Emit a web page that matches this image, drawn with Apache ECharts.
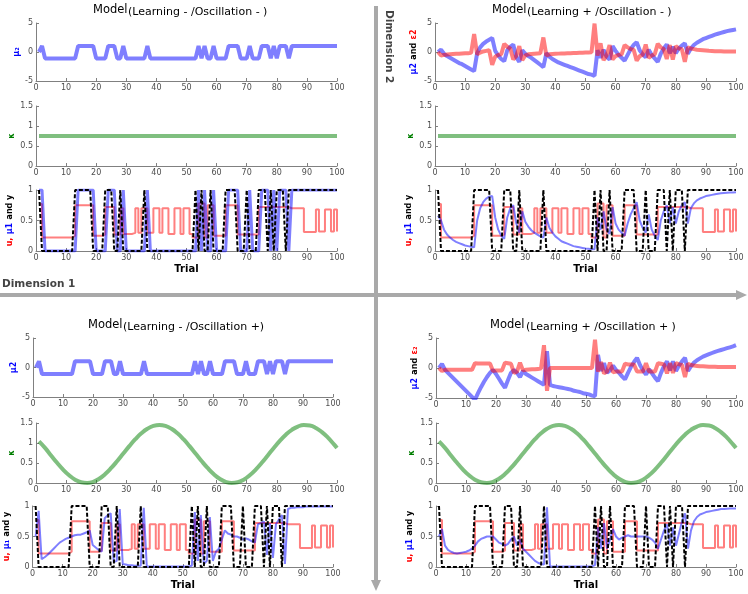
<!DOCTYPE html>
<html><head><meta charset="utf-8">
<script src="https://cdn.jsdelivr.net/npm/echarts@6/dist/echarts.min.js"></script>
<style>html,body{margin:0;padding:0;background:#fff}#c{width:748px;height:594px}</style>
</head><body><div id="c"></div>
<script>
// ---------- data (trial 1..100) ----------
const xTicks = [0,10,20,30,40,50,60,70,80,90,100];
const yOut = [1,
 0,0,0,0,0,0,0,0,0,0,0,
 1,1,1,1,1,1,
 0,0,0,0,
 1,1,1,
 0,0,
 1,
 0,0,0,0,0,0,0,
 1,
 0,0,0,0,0,0,0,0,0,0,0,0,0,0,0,0,
 1,0,1,0,0,1,0,0,0,0,
 1,1,1,1,0,0,0,1,0,0,
 0,1,1,1,0,1,0,1,1,1,
 0,1,1,1,1,1,1,1,1,1,
 1,1,1,1,1,1,1,1];
const uProb = [0.77,
 0.22,0.22,0.22,0.22,0.22,0.22,0.22,0.22,0.22,0.22,
 0.25,
 0.75,0.75,0.75,0.75,0.75,0.75,
 0.25,0.25,0.25,0.27,
 0.72,0.72,0.72,
 0.27,0.27,
 0.70,
 0.28,0.28,0.28,0.30,
 0.70,0.30,0.70,0.70,0.30,0.30,0.70,0.70,0.30,0.70,0.70,
 0.28,0.28,0.70,0.70,0.28,0.70,0.70,0.28,0.22,0.22,
 0.78,0.78,0.22,0.75,0.75,0.25,0.25,0.25,0.25,
 0.75,0.75,0.75,0.75,0.27,0.27,0.27,0.27,0.27,0.27,0.27,
 0.72,0.72,0.72,0.72,0.72,0.72,0.72,0.72,0.72,0.72,
 0.70,0.70,0.70,0.70,0.70,0.31,0.31,0.31,0.31,0.68,0.32,0.32,0.68,0.68,0.32,0.68,0.32];
const mu2NoLearn = [0,1.05,
 -1.1,-1.1,-1.1,-1.1,-1.1,-1.1,-1.1,-1.1,-1.1,-1.1,-1.1,
 1.05,1.05,1.05,1.05,1.05,1.05,
 -1.1,-1.1,-1.1,-1.1,
 1.05,1.05,1.05,
 -1.1,-1.1,
 1.05,
 -1.1,-1.1,-1.1,-1.1,-1.1,-1.1,-1.1,
 1.05,
 -1.1,-1.1,-1.1,-1.1,-1.1,-1.1,-1.1,-1.1,-1.1,-1.1,-1.1,-1.1,-1.1,-1.1,-1.1,-1.1,
 1.05,-1.1,1.05,-1.1,-1.1,1.05,-1.1,-1.1,-1.1,-1.1,
 1.05,1.05,1.05,1.05,-1.1,-1.1,-1.1,1.05,-1.1,-1.1,
 -1.1,1.05,1.05,1.05,-1.1,1.05,-1.1,1.05,1.05,1.05,
 -1.1,1.05,1.05,1.05,1.05,1.05,1.05,1.05,1.05,1.05,
 1.05,1.05,1.05,1.05,1.05,1.05,1.05];
const mu1NoLearn = [1,1,
 0,0,0,0,0,0,0,0,0,0,0,
 1,1,1,1,1,1,
 0,0,0,0,
 1,1,1,
 0,0,
 1,
 0,0,0,0,0,0,0,
 1,
 0,0,0,0,0,0,0,0,0,0,0,0,0,0,0,0,
 1,0,1,0,0,1,0,0,0,0,
 1,1,1,1,0,0,0,1,0,0,
 0,1,1,1,0,1,0,1,1,1,
 0,1,1,1,1,1,1,1,1,1,
 1,1,1,1,1,1,1];
const kappaConst = [0.75, 0.75];          // constant coupling, trials 1 and 100
const kappaTrials = [1,3,5,7,9,11,13,15,17,19,21,23,25,27,29,31,33,35,37,39,41,43,45,47,49,51,53,55,57,59,61,63,65,67,69,71,73,75,77,79,81,83,85,87,89,91,93,95,97,99,100];
const kappaOsc = [1.04,0.877,0.69,0.506,0.336,0.193,0.083,0.018,0.001,0.03,0.107,0.225,0.376,0.55,0.737,0.922,1.095,1.242,1.355,1.426,1.45,1.426,1.355,1.242,1.095,0.922,0.737,0.55,0.376,0.225,0.107,0.03,0.001,0.018,0.083,0.193,0.336,0.506,0.69,0.877,1.053,1.208,1.33,1.412,1.448,1.436,1.377,1.273,1.134,0.966,0.876];
const mu2LearnA = [0,0.4,-0.3,-0.7,-1.0,-1.3,-1.6,-1.9,-2.1,-2.4,
 -2.7,-3.0,-3.3,-0.2,0.8,1.4,1.8,2.1,2.4,0.2,
 -0.6,-1.2,-1.6,0.3,0.9,1.3,-0.9,-1.7,0.3,-0.3,
 -0.7,-1.0,-1.4,-1.8,-2.2,-2.6,-0.2,-0.8,-1.2,-1.5,
 -1.8,-2.0,-2.2,-2.4,-2.6,-2.8,-3.0,-3.2,-3.4,-3.6,
 -3.8,-3.9,-4.1,0.3,-1.0,0.4,-0.8,-1.3,1.0,0.2,
 -0.5,-1.0,-1.5,-0.5,0.5,1.2,1.7,0.3,-0.4,-0.9,
 0.4,-0.5,-1.1,-1.7,-0.3,0.6,1.3,-0.2,0.9,-0.2,
 0.6,1.1,1.5,-0.3,0.6,1.2,1.6,1.9,2.2,2.4,
 2.6,2.8,3.0,3.15,3.3,3.45,3.6,3.7,3.8,3.9];
const eps2LearnA = [0,-0.6,-0.5,-0.45,-0.4,-0.35,-0.3,-0.3,-0.25,-0.2,
 -0.2,-0.15,3.1,-0.4,-0.1,0.1,0.2,0.3,-2.2,-0.8,
 -0.5,-0.4,1.4,0.9,0.6,-1.3,-0.7,1.0,-1.4,-0.6,
 -0.4,-0.35,-0.3,-0.25,-0.2,2.5,-0.6,-0.4,-0.35,-0.3,
 -0.28,-0.26,-0.24,-0.22,-0.2,-0.18,-0.16,-0.14,-0.12,-0.1,
 -0.08,-0.06,4.9,-0.6,1.5,-1.4,-0.6,1.2,-1.3,-0.7,
 -0.5,-0.4,1.2,0.8,0.5,0.4,-1.5,-0.7,-0.5,1.3,
 -1.0,-0.6,-0.4,1.4,0.8,0.5,-1.2,1.2,-1.3,1.0,
 0.6,0.5,-1.7,0.8,0.6,0.5,0.4,0.35,0.3,0.25,
 0.2,0.18,0.15,0.13,0.12,0.1,0.1,0.08,0.08,0.07];
const mu1LearnA = [0.58,0.5,0.35,0.27,0.22,0.18,0.15,0.13,0.11,0.09,
 0.08,0.07,0.06,0.5,0.7,0.8,0.86,0.89,0.9,0.55,
 0.35,0.25,0.2,0.55,0.7,0.75,0.45,0.3,0.65,0.48,
 0.4,0.34,0.3,0.27,0.24,0.22,0.55,0.38,0.3,0.24,
 0.2,0.16,0.14,0.12,0.1,0.08,0.07,0.06,0.05,0.04,
 0.035,0.03,0.03,0.55,0.35,0.65,0.35,0.28,0.72,0.45,
 0.35,0.3,0.25,0.45,0.6,0.7,0.8,0.5,0.38,0.3,
 0.6,0.35,0.25,0.18,0.5,0.65,0.75,0.45,0.72,0.45,
 0.65,0.75,0.8,0.45,0.7,0.78,0.83,0.86,0.88,0.9,
 0.91,0.92,0.93,0.94,0.945,0.95,0.955,0.96,0.96,0.965];
const mu1OscC = [0.5,0.92,0.13,0.16,0.2,0.25,0.3,0.35,0.4,0.43,
 0.46,0.48,0.5,0.52,0.53,0.53,0.55,0.57,0.6,0.36,
 0.32,0.28,0.25,0.8,0.85,0.88,0.08,0.1,0.95,0.05,
 0.04,0.03,0.03,0.02,0.02,0.02,0.97,0.01,0.01,0.01,
 0.01,0.01,0.01,0.01,0.01,0.01,0.01,0.01,0.01,0.01,
 0.01,0.01,0.02,0.9,0.1,0.85,0.05,0.1,0.82,0.1,
 0.25,0.3,0.45,0.6,0.55,0.53,0.5,0.5,0.48,0.45,
 0.47,0.45,0.42,0.4,0.7,0.72,0.75,0.2,0.72,0.15,
 0.7,0.78,0.85,0.05,0.95,0.97,0.97,0.98,0.98,0.98,
 0.99,0.99,0.99,0.99,0.99,0.99,0.99,0.99,0.99,0.99];
const mu2BothD = [0,0.7,-0.3,-0.8,-1.3,-1.8,-2.3,-2.8,-3.3,-3.8,
 -4.3,-4.8,-5.3,-4.2,-3.2,-2.3,-1.5,-0.8,-0.3,-1.0,
 -1.8,-2.6,-3.3,-2.0,-0.8,-0.3,-0.8,-1.5,-0.5,-1.0,
 -1.3,-1.6,-1.9,-2.2,-2.5,-2.8,2.8,-2.8,-3.0,-3.1,
 -3.2,-3.3,-3.4,-3.5,-3.6,-3.8,-3.9,-4.0,-4.2,-4.3,
 -4.4,-4.6,-4.7,2.2,-0.5,0.8,-0.8,-0.4,0.4,-0.3,
 -0.8,-1.4,-1.9,-0.8,0.2,1.0,1.7,0.5,-0.4,-1.1,
 -0.2,-0.9,-1.6,-2.2,-0.8,0.3,1.1,-0.4,1.1,-0.5,
 0.4,1.1,1.7,-0.5,0.3,0.9,1.3,1.6,1.9,2.1,
 2.3,2.5,2.7,2.85,3.0,3.15,3.3,3.45,3.6,3.8];
const eps2BothD = [0,-0.5,-0.3,-0.3,-0.3,-0.3,-0.3,-0.3,-0.3,-0.3,
 -0.3,-0.3,0.8,0.75,0.75,0.75,0.75,0.75,-0.5,-0.4,
 -0.4,-0.4,0.9,0.8,0.7,-0.8,-0.6,0.9,-0.4,-0.3,
 -0.25,-0.2,-0.2,-0.15,-0.1,3.8,-3.8,0,0,0,
 0,0,0,0,0,0,0,0,0,0,
 0,0,4.7,-0.6,1.0,-0.9,-0.6,0.9,-0.7,-0.6,
 -0.6,-0.6,0.7,0.6,0.6,0.6,-0.6,-0.6,-0.6,0.8,
 -0.6,-0.6,-0.6,0.8,0.7,0.6,-0.9,0.8,-0.8,0.8,
 0.6,0.5,-1.5,0.7,0.5,0.4,0.35,0.3,0.28,0.25,
 0.22,0.2,0.2,0.18,0.18,0.17,0.16,0.15,0.15,0.15];
const mu1BothD = [0.5,0.62,0.35,0.28,0.25,0.23,0.22,0.23,0.24,0.25,
 0.27,0.3,0.35,0.42,0.46,0.48,0.5,0.5,0.5,0.45,
 0.4,0.38,0.35,0.38,0.45,0.5,0.35,0.45,0.3,0.25,
 0.2,0.15,0.1,0.07,0.05,0.04,0.98,0.01,0.01,0.01,
 0.01,0.01,0.01,0.01,0.01,0.01,0.01,0.01,0.01,0.01,
 0.01,0.01,0.03,0.65,0.3,0.72,0.3,0.45,0.62,0.5,
 0.45,0.48,0.5,0.52,0.5,0.5,0.5,0.5,0.5,0.5,
 0.48,0.45,0.4,0.3,0.45,0.6,0.7,0.35,0.65,0.35,
 0.55,0.75,0.88,0.3,0.6,0.75,0.82,0.86,0.88,0.9,
 0.91,0.92,0.93,0.94,0.95,0.95,0.955,0.96,0.96,0.96];

// ---------- helpers ----------
const pts = arr => arr.map((v, i) => [i + 1, v]);
const ptsX = (xs, arr) => arr.map((v, i) => [xs[i], v]);
const FONT = 'DejaVu Sans';
const BLUE = 'rgba(0,0,255,0.5)', RED = 'rgba(255,0,0,0.5)', GREEN = 'rgba(0,128,0,0.5)';

// grid rectangles: [left, top, width, height]
const rects = [
  [36,23,301,58],[36,106,301,60],[36,190,301,61],
  [435,23,301,58],[435,106,301,60],[435,190,301,61],
  [33,338,300,59],[36,423,301,60],[32,506,301,61],
  [436,338,300,60],[436,423,300,60],[436,506,300,61]
];
const yRanges = [[-5,5,5],[0,1.5,0.5],[0,1,0.5]];
const richStyles = {
  b:{color:'#0000ff',fontWeight:'bold',fontSize:8,fontFamily:FONT},
  r:{color:'#ff0000',fontWeight:'bold',fontSize:8,fontFamily:FONT},
  g:{color:'#007f00',fontWeight:'bold',fontSize:8,fontFamily:FONT},
  k:{color:'#000',fontWeight:'bold',fontSize:8,fontFamily:FONT}
};
const yNames = [
  '{b|μ₂}','{g|κ}','{r|u,} {b|μ1} {k|and y}',
  '{b|μ2} {k|and} {r|ε2}','{g|κ}','{r|u,} {b|μ1} {k|and y}',
  '{b|μ2}','{g|κ}','{r|u,} {b|μ₁} {k|and y}',
  '{b|μ2} {k|and} {r|ε₂}','{g|κ}','{r|u,} {b|μ1} {k|and y}'
];
const grid = [], xAxis = [], yAxis = [];
rects.forEach((r, i) => {
  grid.push({left:r[0], top:r[1], width:r[2], height:r[3], containLabel:false});
  const row = i % 3;
  xAxis.push({
    type:'value', gridIndex:i, min:0, max:100, interval:10,
    axisLine:{show:true,onZero:false,lineStyle:{color:'#808080',width:1}},
    axisTick:{show:true,inside:true,length:3,lineStyle:{color:'#808080'}},
    axisLabel:{fontSize:8,color:'#4d4d4d',margin:3,fontFamily:FONT},
    splitLine:{show:false},
    name: row === 2 ? 'Trial' : '',
    nameLocation:'middle', nameGap:13,
    nameTextStyle:{fontSize:10,fontWeight:'bold',color:'#000',fontFamily:FONT}
  });
  const yr = yRanges[row];
  yAxis.push({
    type:'value', gridIndex:i, min:yr[0], max:yr[1], interval:yr[2],
    axisLine:{show:true,onZero:false,lineStyle:{color:'#808080',width:1}},
    axisTick:{show:true,inside:true,length:3,lineStyle:{color:'#808080'}},
    axisLabel:{fontSize:8,color:'#4d4d4d',margin:3,fontFamily:FONT},
    splitLine:{show:false},
    name: yNames[i], nameLocation:'middle', nameRotate:90, nameGap:15,
    nameTextStyle:{rich:richStyles}
  });
});

function line(gi, data, color, width, extra) {
  return Object.assign({
    type:'line', xAxisIndex:gi, yAxisIndex:gi, data:data, showSymbol:false, symbol:'none',
    lineStyle:{color:color, width:width}, animation:false, silent:true, clip:true
  }, extra || {});
}
const dash = {lineStyle:{color:'#000',width:2,type:[4,2]}};
const series = [
  // TL
  line(0, pts(mu2NoLearn), BLUE, 4),
  line(1, [[1,kappaConst[0]],[100,kappaConst[1]]], GREEN, 4),
  line(2, pts(uProb), RED, 2, {step:'end'}),
  line(2, pts(mu1NoLearn), BLUE, 3),
  Object.assign(line(2, pts(yOut), '#000', 2), dash),
  // TR
  line(3, pts(mu2LearnA), BLUE, 4),
  line(3, pts(eps2LearnA), RED, 4),
  line(4, [[1,kappaConst[0]],[100,kappaConst[1]]], GREEN, 4),
  line(5, pts(uProb), RED, 2, {step:'end'}),
  line(5, pts(mu1LearnA), BLUE, 2),
  Object.assign(line(5, pts(yOut), '#000', 2), dash),
  // BL
  line(6, pts(mu2NoLearn), BLUE, 4),
  line(7, ptsX(kappaTrials, kappaOsc), GREEN, 4, {smooth:true}),
  line(8, pts(uProb), RED, 2, {step:'end'}),
  line(8, pts(mu1OscC), BLUE, 2),
  Object.assign(line(8, pts(yOut), '#000', 2), dash),
  // BR
  line(9, pts(mu2BothD), BLUE, 4),
  line(9, pts(eps2BothD), RED, 4),
  line(10, ptsX(kappaTrials, kappaOsc), GREEN, 4, {smooth:true}),
  line(11, pts(uProb), RED, 2, {step:'end'}),
  line(11, pts(mu1BothD), BLUE, 2),
  Object.assign(line(11, pts(yOut), '#000', 2), dash)
];

function titleEls(mx, px, my, py, paren) {
  return [
    {type:'text', x:mx, y:my, style:{text:'Model', fill:'#000', font:'11.5px "DejaVu Sans"', textAlign:'left', textVerticalAlign:'middle'}},
    {type:'text', x:px, y:py, style:{text:paren, fill:'#000', font:'11px "DejaVu Sans"', textAlign:'left', textVerticalAlign:'middle'}}
  ];
}
const GRAY = '#a9a9a9';
const graphic = [].concat(
  titleEls(93, 128, 10, 12.5, '(Learning - /Oscillation - )'),
  titleEls(492, 527, 10, 12.5, '(Learning + /Oscillation - )'),
  titleEls(88, 123, 325, 327.5, '(Learning - /Oscillation +)'),
  titleEls(490, 526, 325, 327.5, '(Learning + /Oscillation + )'),
  [
    {type:'line', shape:{x1:0,y1:295,x2:738,y2:295}, style:{stroke:GRAY,lineWidth:4}},
    {type:'polygon', shape:{points:[[736,290],[747,295],[736,300]]}, style:{fill:GRAY}},
    {type:'line', shape:{x1:376,y1:6,x2:376,y2:582}, style:{stroke:GRAY,lineWidth:4}},
    {type:'polygon', shape:{points:[[371,580],[376,591],[381,580]]}, style:{fill:GRAY}},
    {type:'text', x:2, y:284, style:{text:'Dimension 1', fill:'#444', font:'bold 10.5px "DejaVu Sans"', textAlign:'left', textVerticalAlign:'middle'}},
    {type:'text', x:389, y:10, rotation:-Math.PI/2, style:{text:'Dimension 2', fill:'#444', font:'bold 10.5px "DejaVu Sans"', textAlign:'left', textVerticalAlign:'middle'}}
  ]
);

const chart = echarts.init(document.getElementById('c'));
chart.setOption({
  animation:false, backgroundColor:'#fff',
  grid, xAxis, yAxis, series, graphic
});
</script></body></html>
